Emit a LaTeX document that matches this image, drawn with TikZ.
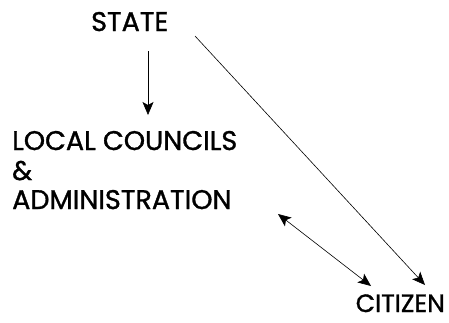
\documentclass[tikz,border=0pt]{standalone}
\usepackage{fontspec}
\setmainfont{Poppins}
\newfontfamily\lblfont{Poppins}[FakeBold=1.2]
\usetikzlibrary{arrows.meta,calc}
\begin{document}
\begin{tikzpicture}[x=1pt,y=-1pt,
  lbl/.style={inner sep=0pt,anchor=base west,font=\lblfont\fontsize{27}{30}\selectfont},
  tip/.tip={Stealth[length=13pt,width=11pt,inset=3pt]},
  conn/.style={line width=0.6pt,-tip},
  conn2/.style={line width=0.6pt,tip-tip}]
\useasboundingbox (0,0) rectangle (449,322);
\node[lbl] (state) at (91,31) {STATE};
\node[lbl] (local) at (12,150) {LOCAL COUNCILS};
\node[lbl] (amp) at (12,180) {\&};
\node[lbl] (admin) at (12,209) {ADMINISTRATION};
\node[lbl,anchor=base east,font=\lblfont\fontsize{25}{30}\selectfont] (citizen) at (445,312) {CITIZEN};
\coordinate (s1) at (148,51);
\coordinate (l1) at (148,115);
\coordinate (s2) at (195,36);
\coordinate (c2) at (425,285);
\coordinate (a3) at (278,214);
\coordinate (c3) at (371,286);
\draw[conn] (s1) -- (l1);
\draw[conn] (s2) -- (c2);
\draw[conn2] (a3) -- (c3);
\end{tikzpicture}
\end{document}
